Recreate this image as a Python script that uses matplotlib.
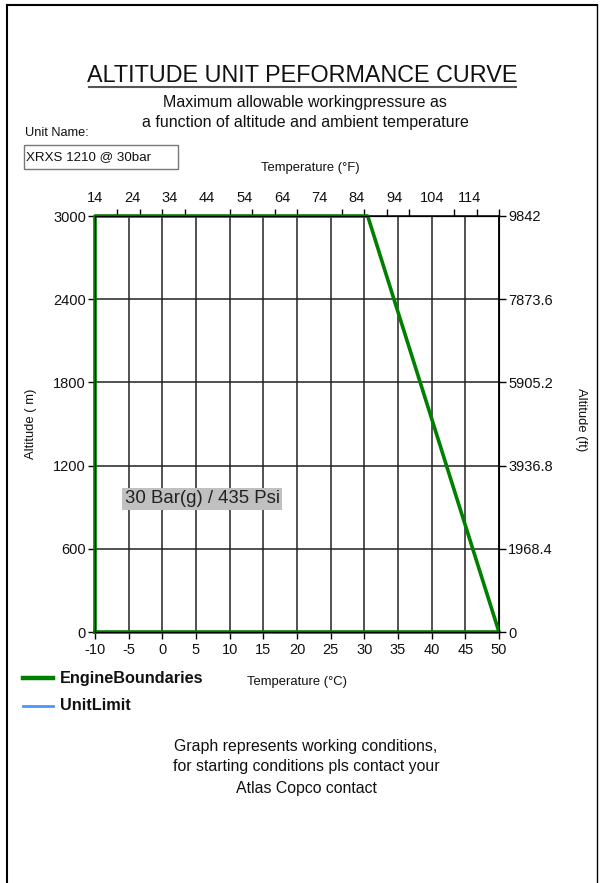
import matplotlib
matplotlib.use("Agg")
import matplotlib.pyplot as plt
from matplotlib.lines import Line2D
from matplotlib.patches import Rectangle

plt.rcParams['font.family'] = ['Liberation Sans', 'DejaVu Sans']
plt.rcParams['axes.unicode_minus'] = False

# -----------------------------
# Data
# -----------------------------
# Engine boundary polygon (temperature in degC, altitude in m)
boundary_temp_c = [-10, -10, 30.5, 50, -10]
boundary_alt_m = [0, 3000, 3000, 0, 0]

temp_c_ticks = [-10, -5, 0, 5, 10, 15, 20, 25, 30, 35, 40, 45, 50]
alt_m_ticks = [0, 600, 1200, 1800, 2400, 3000]
alt_ft_ticks = [0, 1968.4, 3936.8, 5905.2, 7873.6, 9842]
alt_ft_labels = ["0", "1968.4", "3936.8", "5905.2", "7873.6", "9842"]
temp_f_labels = [14, 24, 34, 44, 54, 64, 74, 84, 94, 104, 114]
temp_f_minor = [14 + 6 * i for i in range(19)]

unit_name = "XRXS 1210 @ 30bar"
pressure_note = "30 Bar(g) / 435 Psi"

# -----------------------------
# Figure
# -----------------------------
W, H = 604, 883
fig = plt.figure(figsize=(W / 100, H / 100), dpi=100)

def fx(px):
    return px / W

def fy(py):
    return 1 - py / H

# page frame
fig.add_artist(Line2D([fx(7), fx(7)], [0, fy(5)], color="black", lw=1.5))
fig.add_artist(Line2D([fx(7), fx(597)], [fy(5), fy(5)], color="black", lw=1.5))
fig.add_artist(Line2D([fx(597), fx(597)], [0, fy(5)], color="black", lw=1.0))

# title block
fig.text(fx(302), fy(75), "ALTITUDE UNIT PEFORMANCE CURVE", ha="center", va="center",
         fontsize=16.8, color="#111")
fig.add_artist(Line2D([fx(89), fx(516)], [fy(87), fy(87)], color="#555", lw=1.5))
fig.text(fx(305), fy(102), "Maximum allowable workingpressure as", ha="center", va="center",
         fontsize=11.5, color="#111")
fig.text(fx(305), fy(122), "a function of altitude and ambient temperature", ha="center", va="center",
         fontsize=11.5, color="#111")

fig.text(fx(25), fy(133), "Unit Name:", ha="left", va="center", fontsize=9.2, color="#111")
fig.add_artist(Rectangle((fx(24), fy(169)), fx(154), 24 / H, transform=fig.transFigure,
                         fill=False, edgecolor="#777", lw=1))
fig.text(fx(26), fy(157), unit_name, ha="left", va="center", fontsize=9.6, color="#111")

# -----------------------------
# Plot
# -----------------------------
ax = fig.add_axes([fx(95), fy(632), fx(499) - fx(95), (632 - 216) / H])
ax.set_xlim(-10, 50)
ax.set_ylim(0, 3000)
ax.set_xticks(temp_c_ticks)
ax.set_yticks(alt_m_ticks)
ax.grid(True, color="#222", lw=1.1)
for s in ax.spines.values():
    s.set_color("black")
    s.set_linewidth(1.1)
ax.tick_params(axis="both", direction="out", length=5, width=1, color="black",
               labelsize=10.5, labelcolor="#111", pad=1.5)
ax.tick_params(axis="x", pad=3)

ax.plot(boundary_temp_c, boundary_alt_m, color="#008000", lw=2.6, clip_on=False, zorder=5)

ax.text(5.9, 960, pressure_note, ha="center", va="center", fontsize=13.4, color="#222",
        bbox=dict(boxstyle="square,pad=0.15", facecolor="#c0c0c0", edgecolor="none"))

# right axis in feet
axr = ax.twinx()
axr.set_ylim(0, 9842)
axr.set_yticks(alt_ft_ticks)
axr.set_yticklabels(alt_ft_labels)
axr.tick_params(axis="y", direction="out", length=5, width=1, labelsize=10.5,
                labelcolor="#111", pad=1.5)

# top axis in Fahrenheit
top = ax.secondary_xaxis("top", functions=(lambda c: c * 9 / 5 + 32, lambda f: (f - 32) * 5 / 9))
top.set_xticks(temp_f_labels)
top.set_xticks(temp_f_minor, minor=True)
top.tick_params(axis="x", which="major", length=0, labelsize=10.5, labelcolor="#111", pad=8)
top.tick_params(axis="x", which="minor", length=5, width=1, direction="out")

fig.text(fx(310), fy(168), "Temperature (°F)", ha="center", va="center", fontsize=9.4, color="#111")
fig.text(fx(297), fy(682), "Temperature (°C)", ha="center", va="center", fontsize=9.4, color="#111")
fig.text(fx(31), fy(424), "Altitude ( m)", ha="center", va="center", rotation=90,
         fontsize=9.4, color="#111")
fig.text(fx(581), fy(420), "Altitude (ft)", ha="center", va="center", rotation=-90,
         fontsize=9.4, color="#111")

# legend
fig.add_artist(Line2D([fx(23), fx(53)], [fy(678), fy(678)], color="#008000", lw=3.2))
fig.text(fx(60), fy(678), "EngineBoundaries", ha="left", va="center", fontsize=11.7,
         fontweight="bold", color="#111")
fig.add_artist(Line2D([fx(23), fx(53)], [fy(706), fy(706)], color="#4d94ff", lw=2))
fig.text(fx(60), fy(706), "UnitLimit", ha="left", va="center", fontsize=11.7,
         fontweight="bold", color="#111")

# footer note
for i, line in enumerate(["Graph represents working conditions,",
                          "for starting conditions pls contact your",
                          "Atlas Copco contact"]):
    fig.text(fx(306), fy(746 + 21 * i), line, ha="center", va="center", fontsize=11.4, color="#111")

fig.savefig("out.png", dpi=100)
